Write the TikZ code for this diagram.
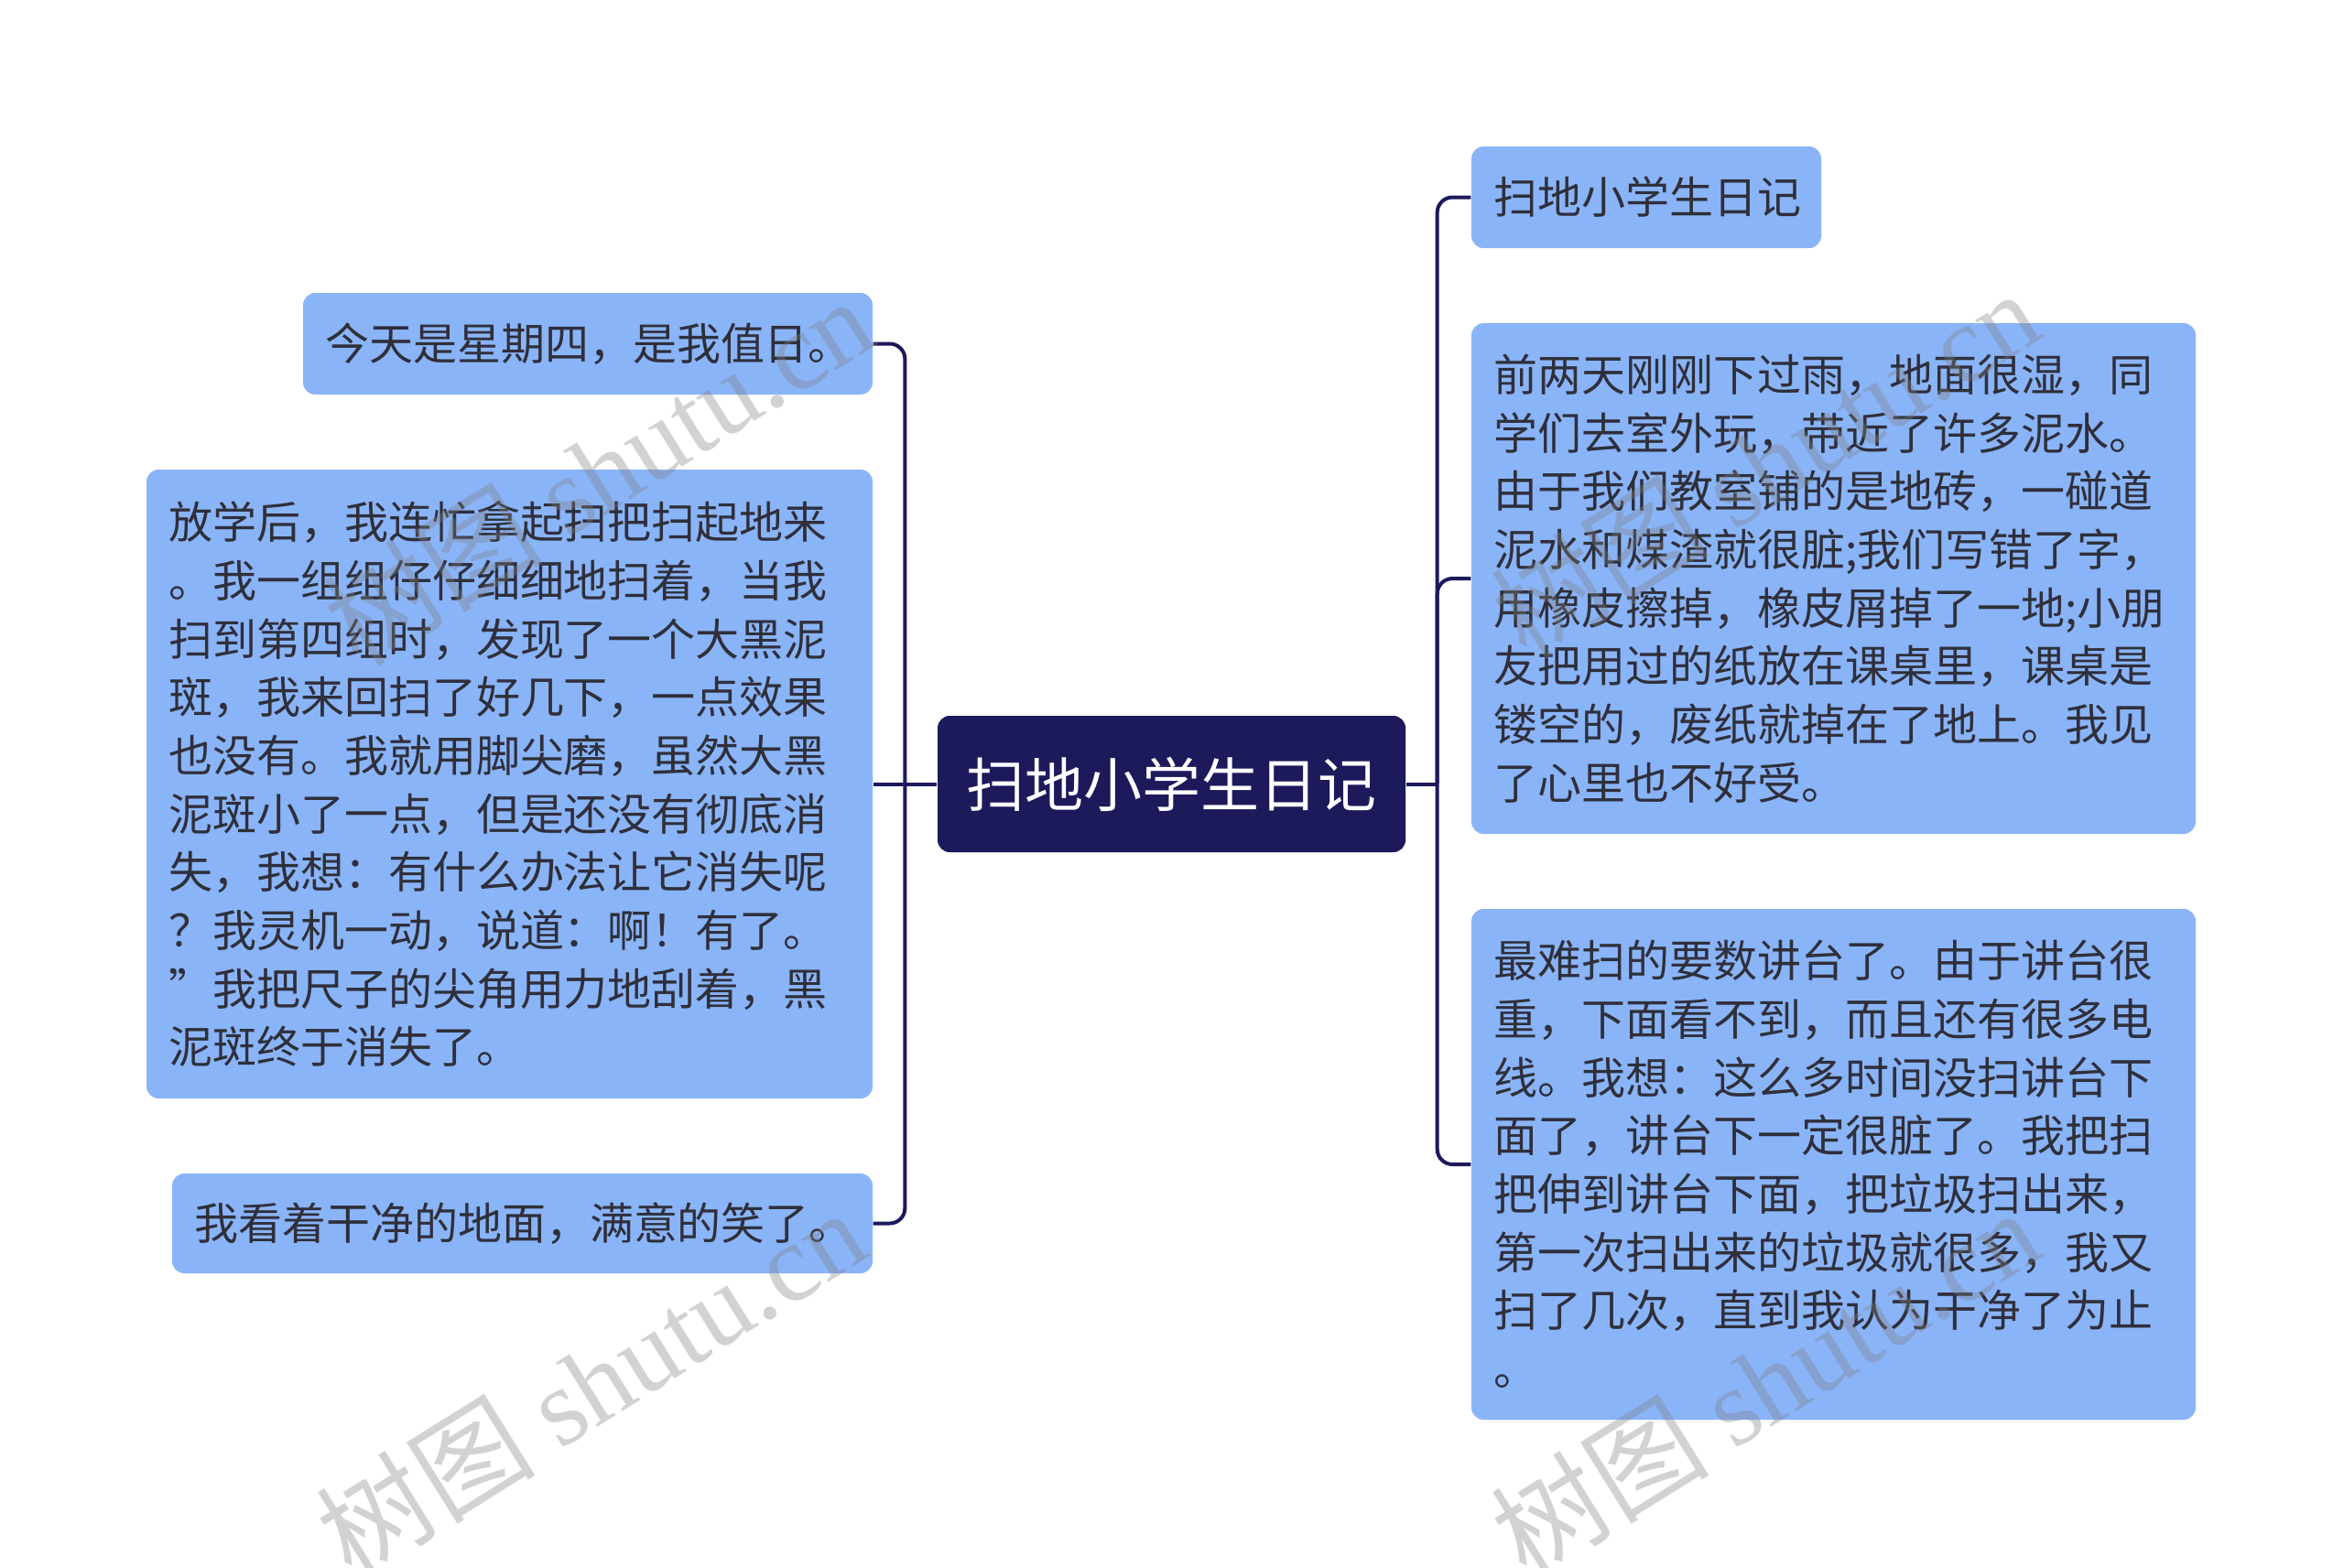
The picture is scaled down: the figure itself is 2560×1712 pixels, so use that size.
\documentclass[tikz,border=0pt]{standalone}
\usepackage{fontspec}
\newfontfamily\cjk{Noto Sans CJK SC}
\newfontfamily\wmserif{Liberation Serif}
\usetikzlibrary{calc}
\definecolor{navy}{HTML}{1C1A5B}
\definecolor{boxblue}{HTML}{8AB4F8}
\definecolor{txt}{HTML}{2F2F3A}
\tikzset{
  topic/.style={fill=boxblue, rounded corners=4pt, draw=none, inner ysep=0pt, inner xsep=7.2pt,
    align=left, text=txt, font=\cjk\fontsize{14.4}{19.1}\selectfont},
  root/.style={fill=navy, rounded corners=4pt, draw=none, inner sep=0pt, text=white,
    align=center, font=\cjk\fontsize{19.2}{23}\selectfont},
  conn/.style={draw=navy, line width=1.2pt, rounded corners=5pt},
  wm/.style={text=gray, opacity=0.35, rotate=32, inner sep=0pt}
}
\begin{document}
\begin{tikzpicture}[x=0.3pt,y=-0.3pt]
\useasboundingbox (0,0) rectangle (2560,1712);
\fill[white] (0,0) rectangle (2560,1712);

\node[root, minimum width=153.3pt, minimum height=44.7pt] (C) at (1279.5,856.5) {扫地小学生日记};

\node[topic, text width=172.2pt, minimum height=33.3pt] (L1) at (642,375.5) {今天是星期四，是我值日。};
\node[topic, text width=223.5pt, minimum height=206.1pt] (L2) at (556.5,856.5) {放学后，我连忙拿起扫把扫起地来\\
。我一组组仔仔细细地扫着，当我\\
扫到第四组时，发现了一个大黑泥\\
斑，我来回扫了好几下，一点效果\\
也没有。我就用脚尖磨，虽然大黑\\
泥斑小了一点，但是还没有彻底消\\
失，我想：有什么办法让它消失呢\\
？我灵机一动，说道：啊！有了。\\
”我把尺子的尖角用力地刮着，黑\\
泥斑终于消失了。};
\node[topic, text width=215.1pt, minimum height=32.7pt] (L3) at (570.5,1336.5) {我看着干净的地面，满意的笑了。};

\node[topic, text width=100.2pt, minimum height=33.3pt] (R1) at (1798,215.5) {扫地小学生日记};
\node[topic, text width=222.9pt, minimum height=167.4pt] (R2) at (2002.5,632) {前两天刚刚下过雨，地面很湿，同\\
学们去室外玩，带近了许多泥水。\\
由于我们教室铺的是地砖，一碰道\\
泥水和煤渣就很脏;我们写错了字，\\
用橡皮擦掉，橡皮屑掉了一地;小朋\\
友把用过的纸放在课桌里，课桌是\\
镂空的，废纸就掉在了地上。我见\\
了心里也不好受。};
\node[topic, text width=222.9pt, minimum height=167.4pt] (R3) at (2002.5,1272) {最难扫的要数讲台了。由于讲台很\\
重，下面看不到，而且还有很多电\\
线。我想：这么多时间没扫讲台下\\
面了，讲台下一定很脏了。我把扫\\
把伸到讲台下面，把垃圾扫出来，\\
第一次扫出来的垃圾就很多，我又\\
扫了几次，直到我认为干净了为止\\
。};

\coordinate (jl) at ($(C.west)+(-35,0)$);
\coordinate (jr) at ($(C.east)+(34,0)$);
\draw[conn] (C.west) -- (jl);
\draw[conn] (jl) |- (L1.east);
\draw[conn] (jl) -- (L2.east);
\draw[conn] (jl) |- (L3.east);
\draw[conn] (C.east) -- (jr);
\draw[conn] (jr) |- (R1.west);
\draw[conn] (jr) |- (R2.west);
\draw[conn] (jr) |- (R3.west);

\node[wm] (wm1) at (653,514) {\cjk\fontsize{36}{40}\selectfont 树图\ \wmserif shutu.cn};
\node[wm] (wm2) at (645,1510) {\cjk\fontsize{36}{40}\selectfont 树图\ \wmserif shutu.cn};
\node[wm] (wm3) at (1927,506) {\cjk\fontsize{36}{40}\selectfont 树图\ \wmserif shutu.cn};
\node[wm] (wm4) at (1927,1510) {\cjk\fontsize{36}{40}\selectfont 树图\ \wmserif shutu.cn};
\end{tikzpicture}
\end{document}
